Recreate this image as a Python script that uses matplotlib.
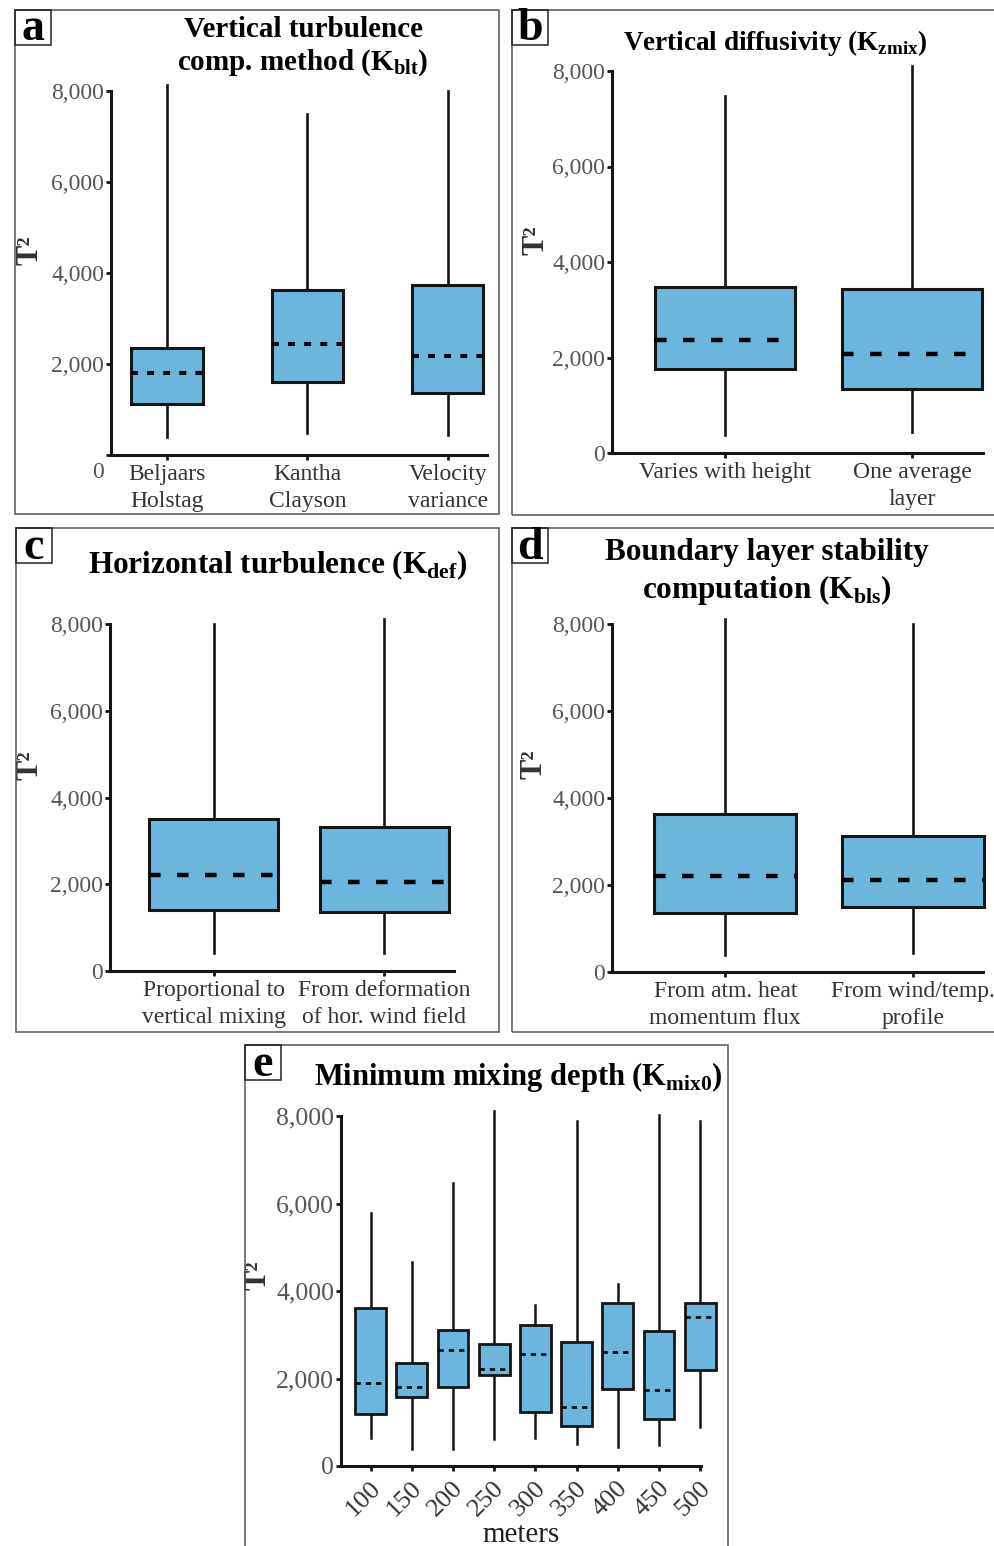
import matplotlib
matplotlib.use("Agg")
import matplotlib.pyplot as plt
from matplotlib.patches import Rectangle
from matplotlib.transforms import ScaledTranslation

plt.rcParams['font.family'] = ['Liberation Serif', 'DejaVu Serif']
plt.rcParams['mathtext.fontset'] = 'custom'
plt.rcParams['mathtext.rm'] = 'Liberation Serif'
plt.rcParams['mathtext.bf'] = 'Liberation Serif:bold'

# ---------------- data ----------------
a_labels = ["Beljaars\nHolstag", "Kantha\nClayson", "Velocity\nvariance"]
a_low = [390, 480, 440]
a_q1 = [1130, 1610, 1355]
a_med = [1810, 2450, 2180]
a_q3 = [2360, 3620, 3730]
a_high = [8130, 7500, 8000]

b_labels = ["Varies with height", "One average\nlayer"]
b_low = [380, 450]
b_q1 = [1755, 1340]
b_med = [2360, 2065]
b_q3 = [3485, 3435]
b_high = [7480, 8100]

c_labels = ["Proportional to\nvertical mixing", "From deformation\nof hor. wind field"]
c_low = [410, 410]
c_q1 = [1410, 1370]
c_med = [2215, 2045]
c_q3 = [3510, 3315]
c_high = [8000, 8120]

d_labels = ["From atm. heat\nmomentum flux", "From wind/temp.\nprofile"]
d_low = [385, 440]
d_q1 = [1345, 1495]
d_med = [2210, 2110]
d_q3 = [3630, 3125]
d_high = [8120, 8000]

e_depths = ["100", "150", "200", "250", "300", "350", "400", "450", "500"]
e_low = [640, 390, 390, 625, 650, 510, 435, 475, 890]
e_q1 = [1180, 1580, 1810, 2075, 1235, 915, 1755, 1085, 2205]
e_med = [1905, 1810, 2645, 2225, 2570, 1350, 2610, 1730, 3395]
e_q3 = [3615, 2350, 3120, 2785, 3220, 2840, 3715, 3080, 3715]
e_high = [5775, 4655, 6460, 8125, 3675, 7885, 4170, 8025, 7895]

y_ticks = [0, 2000, 4000, 6000, 8000]
y_ticklabels = ["0", "2,000", "4,000", "6,000", "8,000"]

BOX_COLOR = "#6cb5dd"
W, H = 994, 1546

fig = plt.figure(figsize=(W / 100, H / 100), dpi=100)


def fx(x):
    return x / W


def fy(y):
    return 1 - y / H


def add_axes_px(left, right, top, bottom):
    return fig.add_axes([fx(left), fy(bottom), (right - left) / W, (bottom - top) / H])


def frame(x0, y0, x1, y1, letter):
    fig.add_artist(Rectangle((fx(x0), fy(y1)), (x1 - x0) / W, (y1 - y0) / H,
                             transform=fig.transFigure, fill=False,
                             edgecolor="#555555", linewidth=1.1))
    bw, bh = 36, 35
    fig.add_artist(Rectangle((fx(x0), fy(y0 + bh)), bw / W, bh / H,
                             transform=fig.transFigure, fill=False,
                             edgecolor="#222222", linewidth=1.1))
    fig.text(fx(x0 + bw / 2), fy(y0 + bh / 2 + 2), letter, ha="center", va="center",
             fontsize=33, fontweight="bold", color="black")


def boxpanel(ax, low, q1, med, q3, high, positions, width, xlim, labels,
             med_lw=3.2, dashes=(2.6, 3.7), box_lw=2.2, whisk_lw=1.9,
             ysize=17, xsize=17):
    stats = []
    for lo, a, m, b, hi in zip(low, q1, med, q3, high):
        stats.append(dict(whislo=lo, q1=a, med=m, q3=b, whishi=hi, fliers=[]))
    art = ax.bxp(stats, positions=positions, widths=width, patch_artist=True,
                 showcaps=False, showfliers=False,
                 boxprops=dict(facecolor=BOX_COLOR, edgecolor="#151515", linewidth=box_lw),
                 medianprops=dict(color="black", linewidth=med_lw,
                                  linestyle=(0, dashes)),
                 whiskerprops=dict(color="#151515", linewidth=whisk_lw))
    for key in ("whiskers", "boxes", "medians"):
        for a in art[key]:
            a.set_clip_on(False)
    for w in art["whiskers"]:
        w.set_zorder(1)
    ax.set_xlim(*xlim)
    ax.set_ylim(0, 8000)
    ax.set_yticks(y_ticks)
    ax.set_yticklabels(y_ticklabels)
    ax.set_xticks(positions)
    ax.set_xticklabels(labels)
    for s in ("top", "right"):
        ax.spines[s].set_visible(False)
    for s in ("left", "bottom"):
        ax.spines[s].set_linewidth(2.2)
        ax.spines[s].set_color("#151515")
    ax.tick_params(axis="both", direction="out", length=3.8, width=2.0, color="#151515")
    ax.tick_params(axis="y", labelsize=ysize, labelcolor="#555555", pad=1)
    ax.tick_params(axis="x", labelsize=xsize, labelcolor="#333333", pad=3)
    for t in ax.get_xticklabels():
        t.set_linespacing(1.33)
    ax.patch.set_visible(False)


def ylab(ax, x, y, size=22):
    ax.set_ylabel("T\u00b2", fontsize=size, fontweight="bold", color="#333333")
    ax.yaxis.set_label_coords(x, y)


# ---------------- panel a ----------------
frame(15, 10, 499, 514, "a")
ax_a = add_axes_px(111, 487, 91, 455)
boxpanel(ax_a, a_low, a_q1, a_med, a_q3, a_high, [1, 2, 3], 0.51, (0.6, 3.28),
         a_labels, med_lw=2.9, dashes=(1.7, 2.3))
ylab(ax_a, -0.176, 0.563)
zero_tick = ax_a.yaxis.get_major_ticks()[0]
zero_tick.label1.set_transform(zero_tick.label1.get_transform()
                               + ScaledTranslation(0, -15 / 100, fig.dpi_scale_trans))
fig.text(fx(303), fy(70), "Vertical turbulence\ncomp. method (K$_{\\mathbf{blt}}$)",
         ha="center", va="baseline", fontsize=21, fontweight="bold", linespacing=1.22)

# ---------------- panel b ----------------
frame(512, 10, 1010, 515, "b")
ax_b = add_axes_px(612, 983, 71, 453)
boxpanel(ax_b, b_low, b_q1, b_med, b_q3, b_high, [1, 2], 0.75, (0.396, 2.38), b_labels)
ylab(ax_b, -0.167, 0.557)
fig.text(fx(775), fy(50), "Vertical diffusivity (K$_{\\mathbf{zmix}}$)",
         ha="center", va="baseline", fontsize=19.5, fontweight="bold")

# ---------------- panel c ----------------
frame(16, 528, 499, 1032, "c")
ax_c = add_axes_px(110, 454, 624, 971)
boxpanel(ax_c, c_low, c_q1, c_med, c_q3, c_high, [1, 2], 0.757, (0.393, 2.41), c_labels)
ylab(ax_c, -0.189, 0.594)
fig.text(fx(278), fy(573), "Horizontal turbulence (K$_{\\mathbf{def}}$)",
         ha="center", va="baseline", fontsize=22.5, fontweight="bold")

# ---------------- panel d ----------------
frame(512, 528, 1010, 1032, "d")
ax_d = add_axes_px(612, 983, 624, 972)
boxpanel(ax_d, d_low, d_q1, d_med, d_q3, d_high, [1, 2], 0.755, (0.397, 2.372), d_labels)
ylab(ax_d, -0.172, 0.596)
fig.text(fx(767), fy(598), "Boundary layer stability\ncomputation (K$_{\\mathbf{bls}}$)",
         ha="center", va="baseline", fontsize=22.5, fontweight="bold", linespacing=1.25)

# ---------------- panel e ----------------
frame(245, 1045, 728, 1560, "e")
ax_e = add_axes_px(341, 701, 1116, 1466)
pos_e = list(range(1, len(e_depths) + 1))
boxpanel(ax_e, e_low, e_q1, e_med, e_q3, e_high, pos_e, 0.75, (0.28, 9.02), e_depths,
         med_lw=1.9, dashes=(2.0, 1.9), box_lw=2.0, whisk_lw=1.8, ysize=18.5, xsize=19)
for t in ax_e.get_xticklabels():
    t.set_rotation(45)
    t.set_ha("right")
    t.set_va("top")
    t.set_rotation_mode("anchor")
    t.set_transform(t.get_transform() + ScaledTranslation(-1 / 100, -2 / 100, fig.dpi_scale_trans))
ax_e.set_xlabel("meters", fontsize=21, color="#222222", labelpad=1)
ylab(ax_e, -0.189, 0.546)
fig.text(fx(518), fy(1085), "Minimum mixing depth (K$_{\\mathbf{mix0}}$)",
         ha="center", va="baseline", fontsize=22, fontweight="bold")

fig.savefig("out.png", dpi=100)
